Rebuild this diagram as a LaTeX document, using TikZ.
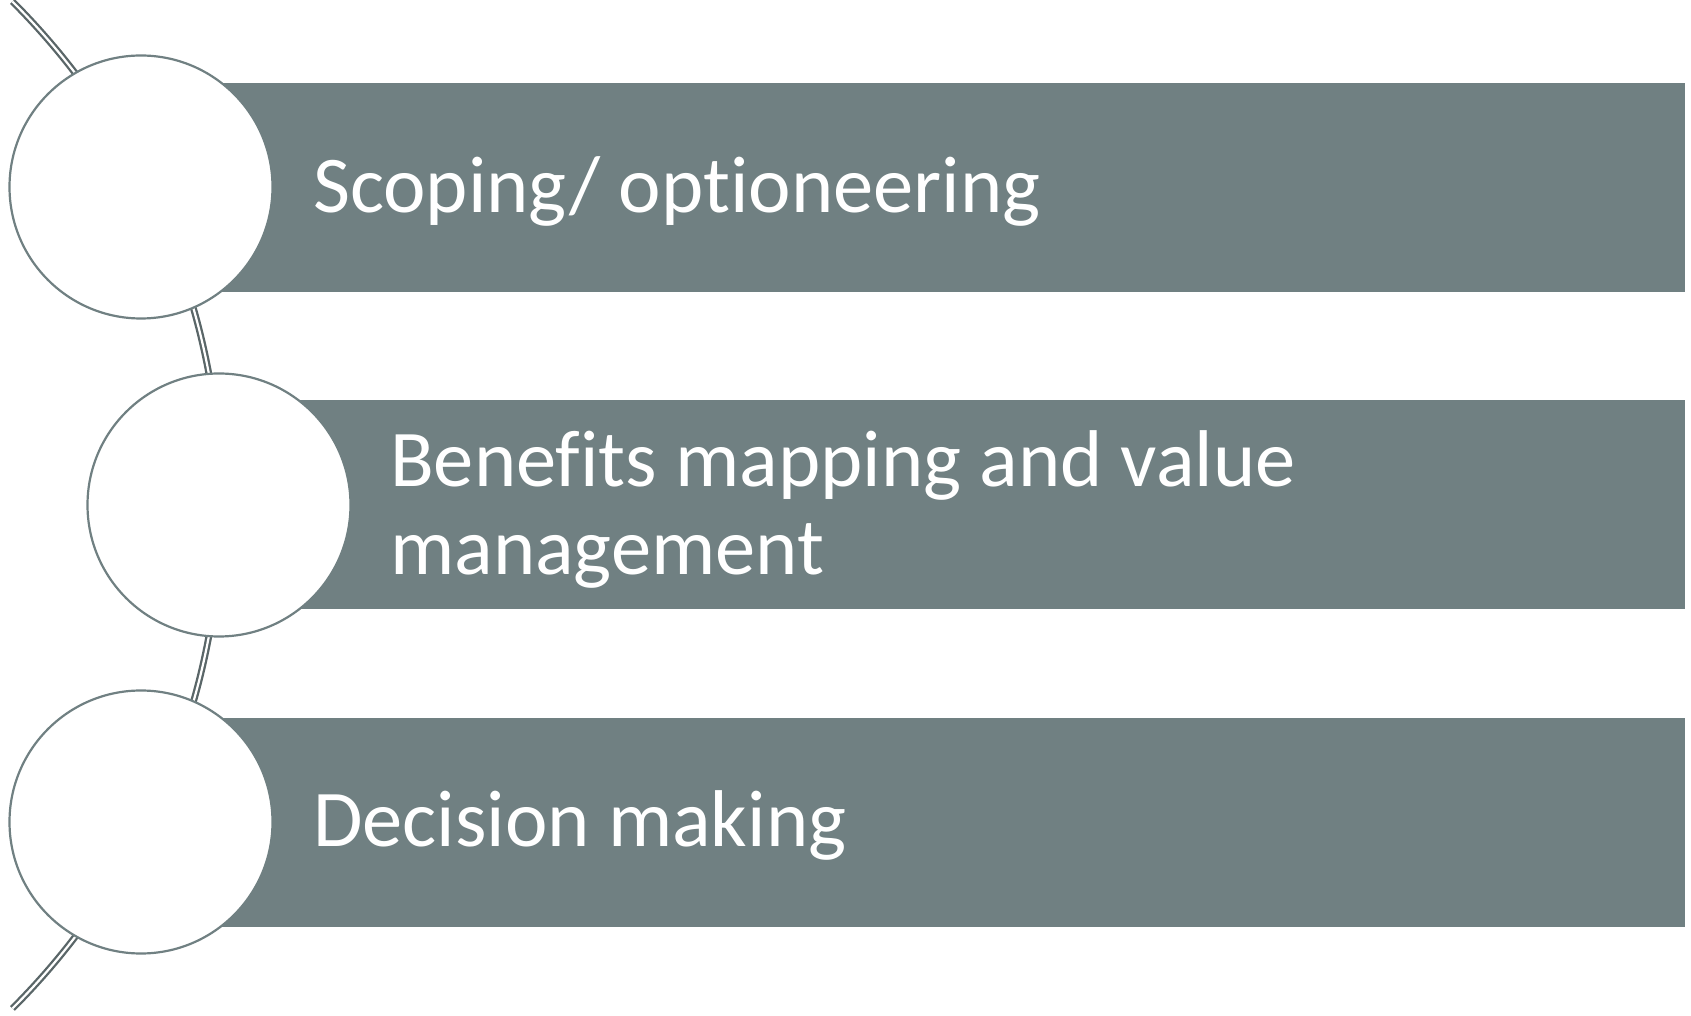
\documentclass[tikz,border=0pt]{standalone}
\usepackage{fontspec}
\setmainfont[Ligatures={NoCommon}]{Carlito}
\definecolor{slate}{RGB}{112,128,130}
\begin{document}
\begin{tikzpicture}[x=1pt,y=1pt,
  bar/.style={fill=slate,draw=none,inner sep=0,minimum height=209pt,anchor=west},
  disc/.style={circle,fill=white,draw=slate,line width=2.2pt,inner sep=0,minimum size=263pt},
  lbl/.style={text=white,inner sep=0,anchor=base west,align=left,font=\fontsize{80.5}{88}\selectfont},
  rail/.style={draw=slate!80!black,line width=2.3pt,double=white,double distance=2.2pt}]
\useasboundingbox (0,0) rectangle (1691,1015);
% rail arc
\coordinate (arcc) at (-491,510);
\draw[rail] ([shift={(-45:712)}]arcc) arc[start angle=-45,end angle=45,radius=712];
% bars
\node[bar,minimum width=1544pt] (b1) at (141,827.5) {};
\node[bar,minimum width=1466pt] (b2) at (219,510) {};
\node[bar,minimum width=1544pt] (b3) at (141,192.5) {};
% circles
\node[disc] (c1) at (141,828) {};
\node[disc] (c2) at (219,510) {};
\node[disc] (c3) at (141,193) {};
% labels
\node[lbl] (t1) at (313,802) {Scoping/ optioneering};
\node[lbl] (t2) at (390,440) {Benefits mapping and value\\management};
\node[lbl] (t3) at (313,168.5) {Decision making};
\end{tikzpicture}
\end{document}
